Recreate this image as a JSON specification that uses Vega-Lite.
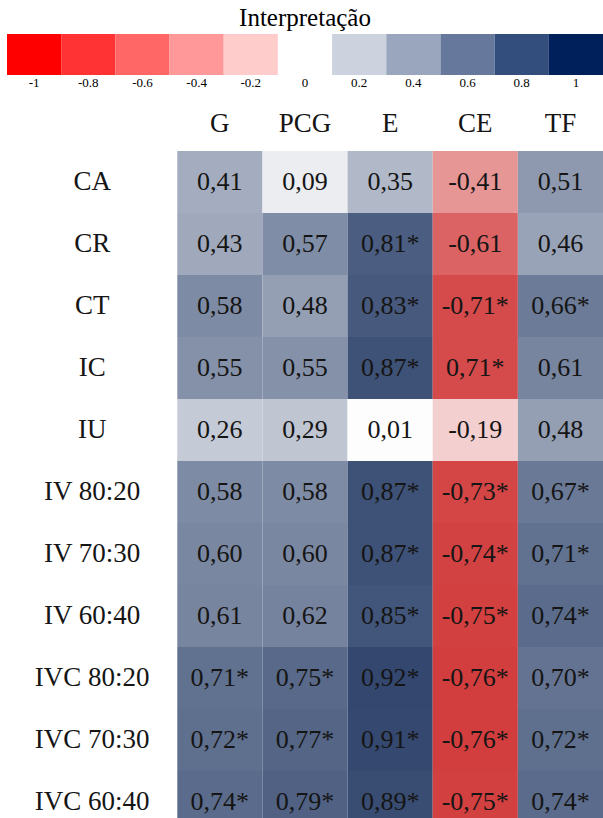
{
  "$schema": "https://vega.github.io/schema/vega-lite/v6.json",
  "padding": {"left": 7, "top": 6, "right": 0, "bottom": 0},
  "spacing": 0,
  "background": "white",
  "config": {
    "view": {"stroke": null},
    "font": "Liberation Serif"
  },
  "resolve": {"scale": {"color": "independent"}},
  "datasets": {
    "legend": [
      {"v": -1}, {"v": -0.8}, {"v": -0.6}, {"v": -0.4}, {"v": -0.2}, {"v": 0},
      {"v": 0.2}, {"v": 0.4}, {"v": 0.6}, {"v": 0.8}, {"v": 1}
    ],
    "cols": [
      {"c": "G"}, {"c": "PCG"}, {"c": "E"}, {"c": "CE"}, {"c": "TF"}
    ],
    "cells": [
      {"r": "CA", "c": "G", "v": 0.41, "t": "0,41"},
      {"r": "CA", "c": "PCG", "v": 0.09, "t": "0,09"},
      {"r": "CA", "c": "E", "v": 0.35, "t": "0,35"},
      {"r": "CA", "c": "CE", "v": -0.41, "t": "-0,41"},
      {"r": "CA", "c": "TF", "v": 0.51, "t": "0,51"},
      {"r": "CR", "c": "G", "v": 0.43, "t": "0,43"},
      {"r": "CR", "c": "PCG", "v": 0.57, "t": "0,57"},
      {"r": "CR", "c": "E", "v": 0.81, "t": "0,81*"},
      {"r": "CR", "c": "CE", "v": -0.61, "t": "-0,61"},
      {"r": "CR", "c": "TF", "v": 0.46, "t": "0,46"},
      {"r": "CT", "c": "G", "v": 0.58, "t": "0,58"},
      {"r": "CT", "c": "PCG", "v": 0.48, "t": "0,48"},
      {"r": "CT", "c": "E", "v": 0.83, "t": "0,83*"},
      {"r": "CT", "c": "CE", "v": -0.71, "t": "-0,71*"},
      {"r": "CT", "c": "TF", "v": 0.66, "t": "0,66*"},
      {"r": "IC", "c": "G", "v": 0.55, "t": "0,55"},
      {"r": "IC", "c": "PCG", "v": 0.55, "t": "0,55"},
      {"r": "IC", "c": "E", "v": 0.87, "t": "0,87*"},
      {"r": "IC", "c": "CE", "v": -0.71, "t": "0,71*"},
      {"r": "IC", "c": "TF", "v": 0.61, "t": "0,61"},
      {"r": "IU", "c": "G", "v": 0.26, "t": "0,26"},
      {"r": "IU", "c": "PCG", "v": 0.29, "t": "0,29"},
      {"r": "IU", "c": "E", "v": 0.01, "t": "0,01"},
      {"r": "IU", "c": "CE", "v": -0.19, "t": "-0,19"},
      {"r": "IU", "c": "TF", "v": 0.48, "t": "0,48"},
      {"r": "IV 80:20", "c": "G", "v": 0.58, "t": "0,58"},
      {"r": "IV 80:20", "c": "PCG", "v": 0.58, "t": "0,58"},
      {"r": "IV 80:20", "c": "E", "v": 0.87, "t": "0,87*"},
      {"r": "IV 80:20", "c": "CE", "v": -0.73, "t": "-0,73*"},
      {"r": "IV 80:20", "c": "TF", "v": 0.67, "t": "0,67*"},
      {"r": "IV 70:30", "c": "G", "v": 0.60, "t": "0,60"},
      {"r": "IV 70:30", "c": "PCG", "v": 0.60, "t": "0,60"},
      {"r": "IV 70:30", "c": "E", "v": 0.87, "t": "0,87*"},
      {"r": "IV 70:30", "c": "CE", "v": -0.74, "t": "-0,74*"},
      {"r": "IV 70:30", "c": "TF", "v": 0.71, "t": "0,71*"},
      {"r": "IV 60:40", "c": "G", "v": 0.61, "t": "0,61"},
      {"r": "IV 60:40", "c": "PCG", "v": 0.62, "t": "0,62"},
      {"r": "IV 60:40", "c": "E", "v": 0.85, "t": "0,85*"},
      {"r": "IV 60:40", "c": "CE", "v": -0.75, "t": "-0,75*"},
      {"r": "IV 60:40", "c": "TF", "v": 0.74, "t": "0,74*"},
      {"r": "IVC 80:20", "c": "G", "v": 0.71, "t": "0,71*"},
      {"r": "IVC 80:20", "c": "PCG", "v": 0.75, "t": "0,75*"},
      {"r": "IVC 80:20", "c": "E", "v": 0.92, "t": "0,92*"},
      {"r": "IVC 80:20", "c": "CE", "v": -0.76, "t": "-0,76*"},
      {"r": "IVC 80:20", "c": "TF", "v": 0.70, "t": "0,70*"},
      {"r": "IVC 70:30", "c": "G", "v": 0.72, "t": "0,72*"},
      {"r": "IVC 70:30", "c": "PCG", "v": 0.77, "t": "0,77*"},
      {"r": "IVC 70:30", "c": "E", "v": 0.91, "t": "0,91*"},
      {"r": "IVC 70:30", "c": "CE", "v": -0.76, "t": "-0,76*"},
      {"r": "IVC 70:30", "c": "TF", "v": 0.72, "t": "0,72*"},
      {"r": "IVC 60:40", "c": "G", "v": 0.74, "t": "0,74*"},
      {"r": "IVC 60:40", "c": "PCG", "v": 0.79, "t": "0,79*"},
      {"r": "IVC 60:40", "c": "E", "v": 0.89, "t": "0,89*"},
      {"r": "IVC 60:40", "c": "CE", "v": -0.75, "t": "-0,75*"},
      {"r": "IVC 60:40", "c": "TF", "v": 0.74, "t": "0,74*"}
    ],
    "rows": [
      {"r": "CA"}, {"r": "CR"}, {"r": "CT"}, {"r": "IC"}, {"r": "IU"},
      {"r": "IV 80:20"}, {"r": "IV 70:30"}, {"r": "IV 60:40"},
      {"r": "IVC 80:20"}, {"r": "IVC 70:30"}, {"r": "IVC 60:40"}
    ]
  },
  "vconcat": [
    {
      "width": 596,
      "height": 41,
      "data": {"name": "legend"},
      "title": {
        "text": "Interpretação",
        "fontSize": 25,
        "fontWeight": "normal",
        "font": "Liberation Serif",
        "color": "#000000",
        "anchor": "middle",
        "offset": 3
      },
      "mark": {"type": "rect"},
      "encoding": {
        "x": {
          "field": "v",
          "type": "ordinal",
          "scale": {"paddingInner": 0, "paddingOuter": 0},
          "axis": {
            "title": null,
            "orient": "bottom",
            "ticks": false,
            "domain": false,
            "labelAngle": 0,
            "labelFont": "Liberation Serif",
            "labelFontSize": 13,
            "labelColor": "#000000",
            "labelPadding": 1,
            "minExtent": 14,
            "maxExtent": 14
          }
        },
        "color": {
          "field": "v",
          "type": "quantitative",
          "scale": {"domain": [-1, 0, 1], "range": ["#ff0000", "#ffffff", "#00205b"], "interpolate": "rgb"},
          "legend": null
        }
      }
    },
    {
      "width": 596,
      "height": 744,
      "layer": [
        {
          "data": {"name": "cells"},
          "mark": {"type": "rect"},
          "encoding": {
            "x": {
              "field": "c",
              "type": "nominal",
              "scale": {"domain": ["lab1", "lab2", "G", "PCG", "E", "CE", "TF"], "paddingInner": 0, "paddingOuter": 0},
              "axis": null
            },
            "y": {
              "field": "r",
              "type": "nominal",
              "scale": {
                "domain": ["header", "CA", "CR", "CT", "IC", "IU", "IV 80:20", "IV 70:30", "IV 60:40", "IVC 80:20", "IVC 70:30", "IVC 60:40"],
                "paddingInner": 0, "paddingOuter": 0
              },
              "axis": null
            },
            "color": {
              "field": "v",
              "type": "quantitative",
              "scale": {"domain": [-1, 0, 1], "range": ["#c40000", "#ffffff", "#213762"], "interpolate": "rgb"},
              "legend": null
            }
          }
        },
        {
          "mark": {"type": "rule", "color": "#8a8a8a", "strokeWidth": 1.5},
          "encoding": {
            "y": {"datum": "header", "type": "nominal", "bandPosition": 0}
          }
        },
        {
          "mark": {"type": "rule", "color": "#cccccc", "strokeWidth": 1},
          "encoding": {
            "x": {"datum": "lab1", "type": "nominal", "bandPosition": 0}
          }
        },
        {
          "mark": {"type": "rule", "color": "#000000", "strokeWidth": 2.5},
          "encoding": {
            "y": {"datum": "CA", "type": "nominal", "bandPosition": 0}
          }
        },
        {
          "data": {"name": "cells"},
          "mark": {"type": "text", "fontSize": 26, "font": "Liberation Serif", "color": "#151515", "baseline": "middle"},
          "encoding": {
            "x": {"field": "c", "type": "nominal"},
            "y": {"field": "r", "type": "nominal"},
            "text": {"field": "t"}
          }
        },
        {
          "data": {"name": "cols"},
          "mark": {"type": "text", "fontSize": 27, "font": "Liberation Serif", "color": "#151515", "baseline": "middle", "dy": 4},
          "encoding": {
            "x": {"field": "c", "type": "nominal"},
            "y": {"datum": "header", "type": "nominal"},
            "text": {"field": "c"}
          }
        },
        {
          "data": {"name": "rows"},
          "mark": {"type": "text", "fontSize": 27, "font": "Liberation Serif", "color": "#151515", "baseline": "middle", "align": "center"},
          "encoding": {
            "x": {"datum": "lab2", "type": "nominal", "bandPosition": 0},
            "y": {"field": "r", "type": "nominal"},
            "text": {"field": "r"}
          }
        }
      ]
    }
  ]
}
